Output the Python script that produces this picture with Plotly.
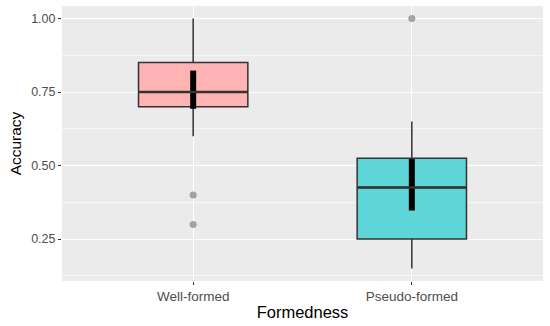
import plotly.graph_objects as go

categories = ["Well-formed", "Pseudo-formed"]
q1 = [0.70, 0.25]
median = [0.75, 0.425]
q3 = [0.85, 0.525]
lower_whisker = [0.60, 0.15]
upper_whisker = [1.00, 0.65]
outliers_x = ["Well-formed", "Well-formed", "Pseudo-formed"]
outliers_y = [0.40, 0.30, 1.00]
mean = [0.765, 0.435]
ci_low = [0.693, 0.347]
ci_high = [0.823, 0.522]
fills = ["rgba(255,180,179,1)", "rgba(94,214,216,1)"]

y_ticks = [0.25, 0.50, 0.75, 1.00]
y_ticklabels = ["0.25", "0.50", "0.75", "1.00"]
y_minor = [0.125, 0.375, 0.625, 0.875]

FONT = "Liberation Sans, Arial, sans-serif"

fig = go.Figure()
for i, c in enumerate(categories):
    fig.add_trace(go.Box(
        x=[c], q1=[q1[i]], median=[median[i]], q3=[q3[i]],
        lowerfence=[lower_whisker[i]], upperfence=[upper_whisker[i]],
        fillcolor=fills[i], line=dict(color="#333333", width=1.5),
        whiskerwidth=0, width=0.5, boxpoints=False, showlegend=False,
        hoverinfo="skip",
    ))
    # thicker median line
    fig.add_trace(go.Scatter(
        x=[i - 0.25, i + 0.25], y=[median[i], median[i]], mode="lines",
        line=dict(color="#333333", width=2.5), showlegend=False, xaxis="x2",
        hoverinfo="skip",
    ))
    # mean CI bar
    fig.add_trace(go.Scatter(
        x=[c, c], y=[ci_low[i], ci_high[i]], mode="lines",
        line=dict(color="black", width=6), showlegend=False, hoverinfo="skip",
    ))
    fig.add_trace(go.Scatter(
        x=[c], y=[mean[i]], mode="markers",
        marker=dict(color="black", size=5), showlegend=False, hoverinfo="skip",
    ))

fig.add_trace(go.Scatter(
    x=outliers_x, y=outliers_y, mode="markers",
    marker=dict(color="rgba(110,110,110,0.6)", size=7), showlegend=False,
    hoverinfo="skip",
))

fig.update_layout(
    width=550, height=326,
    margin=dict(l=62, r=7, t=6, b=45),
    paper_bgcolor="white", plot_bgcolor="#EBEBEB",
    font=dict(family=FONT),
    xaxis=dict(
        type="category", categoryorder="array", categoryarray=categories,
        range=[-0.6, 1.6], showgrid=True, gridcolor="white", gridwidth=1.2,
        ticks="outside", ticklen=3, tickcolor="#333333",
        tickfont=dict(size=13.5, color="#4D4D4D"),
        title=dict(text="Formedness", font=dict(size=16.5, color="black"), standoff=3),
        zeroline=False, showline=False,
    ),
    xaxis2=dict(
        overlaying="x", range=[-0.6, 1.6], visible=False,
    ),
    yaxis=dict(
        range=[0.1075, 1.0425], tickvals=y_ticks, ticktext=y_ticklabels,
        showgrid=True, gridcolor="white", gridwidth=1.2,
        ticks="outside", ticklen=3, tickcolor="#333333",
        tickfont=dict(size=12.5, color="#4D4D4D"),
        title=dict(text="Accuracy", font=dict(size=15.5, color="black"), standoff=5),
        minor=dict(tickvals=y_minor, showgrid=True, gridcolor="#F7F7F7", gridwidth=0.6, ticks=""),
        zeroline=False, showline=False,
    ),
)

fig.write_html("out.html", config={"displayModeBar": False},
               post_script="document.body.style.margin='0';document.body.style.overflow='hidden';")
